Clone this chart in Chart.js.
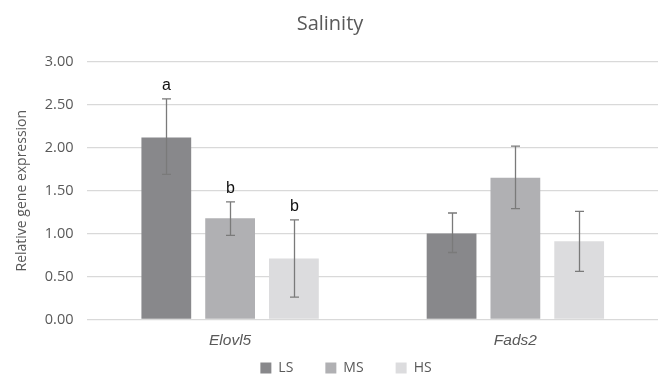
<!DOCTYPE html>
<html>
<head>
<meta charset="utf-8">
<script src="https://cdn.jsdelivr.net/npm/chart.js@4.4.1/dist/chart.umd.min.js"></script>
<style>
  html, body { margin: 0; padding: 0; background: #fff; }
  #wrap { width: 658px; height: 378px; }
</style>
</head>
<body>
<div id="wrap"><canvas id="myChart" width="658" height="378"></canvas></div>
<script>
var genes = ["Elovl5", "Fads2"];
var seriesNames = ["LS", "MS", "HS"];
var barColors = ["#88888b", "#b0b0b3", "#dcdcde"];

// means per series (LS, MS, HS) for each gene
var lsValues = [2.12, 1.00];
var msValues = [1.18, 1.65];
var hsValues = [0.71, 0.91];

// error bar ends
var lsErrTop = [2.57, 1.24], lsErrBot = [1.69, 0.78];
var msErrTop = [1.37, 2.02], msErrBot = [0.98, 1.29];
var hsErrTop = [1.16, 1.26], hsErrBot = [0.26, 0.56];

// significance letters (only on Elovl5)
var lsLetters = ["a", ""];
var msLetters = ["b", ""];
var hsLetters = ["b", ""];

var yTicks = [0, 0.5, 1, 1.5, 2, 2.5, 3];

var allValues = [lsValues, msValues, hsValues];
var allTop = [lsErrTop, msErrTop, hsErrTop];
var allBot = [lsErrBot, msErrBot, hsErrBot];
var allLetters = [lsLetters, msLetters, hsLetters];

var errorBarPlugin = {
    id: "errorBars",
    afterDatasetsDraw: function (chart) {
        var ctx = chart.ctx;
        var y = chart.scales.y;
        ctx.save();
        chart.data.datasets.forEach(function (ds, i) {
            var meta = chart.getDatasetMeta(i);
            meta.data.forEach(function (bar, j) {
                var x = Math.round(bar.x) + 0.5;
                var yt = y.getPixelForValue(allTop[i][j]);
                var yb = y.getPixelForValue(allBot[i][j]);
                ctx.strokeStyle = "#7a7a7a";
                ctx.lineWidth = 1.3;
                ctx.beginPath();
                ctx.moveTo(x, yt); ctx.lineTo(x, yb);
                ctx.moveTo(x - 4.5, yt); ctx.lineTo(x + 4.5, yt);
                ctx.moveTo(x - 4.5, yb); ctx.lineTo(x + 4.5, yb);
                ctx.stroke();
                var letter = allLetters[i][j];
                if (letter) {
                    ctx.fillStyle = "#111";
                    ctx.font = "16px 'Liberation Sans', Arial, sans-serif";
                    ctx.textAlign = "center";
                    ctx.textBaseline = "bottom";
                    ctx.fillText(letter, x, yt - 5);
                }
            });
        });
        ctx.restore();
    }
};

// legend sits closer to the axis labels (and a bit right) compared to chart.js default
var legendShift = {
    id: "legendShift",
    afterLayout: function (chart) {
        var lg = chart.legend;
        if (lg) {
            lg.top -= 25;
            lg.bottom -= 25;
            lg.left += 16;
            lg.right += 16;
        }
    }
};

var datasets = seriesNames.map(function (name, i) {
    return {
        label: name,
        data: allValues[i],
        backgroundColor: barColors[i],
        borderWidth: 0,
        categoryPercentage: 0.671,
        barPercentage: 0.78
    };
});

new Chart("myChart", {
    type: "bar",
    data: { labels: genes, datasets: datasets },
    plugins: [errorBarPlugin, legendShift],
    options: {
        responsive: false,
        animation: false,
        layout: { padding: { left: 2, right: 0, top: 4, bottom: -32 } },
        plugins: {
            title: {
                display: true,
                text: "Salinity",
                color: "#595959",
                font: { family: "'Open Sans', sans-serif", size: 20, weight: "normal" },
                padding: { top: 8, bottom: 26 }
            },
            legend: {
                position: "bottom",
                labels: {
                    color: "#595959",
                    font: { family: "'Open Sans', sans-serif", size: 14 },
                    boxWidth: 11,
                    boxHeight: 11,
                    padding: 32
                }
            },
            tooltip: { enabled: false }
        },
        scales: {
            x: {
                grid: { display: false },
                border: { display: false },
                ticks: {
                    color: "#595959",
                    font: { family: "'Liberation Sans', Arial, sans-serif", size: 15.5, style: "italic" },
                    padding: 4
                }
            },
            y: {
                min: 0,
                max: 3,
                afterBuildTicks: function (axis) {
                    axis.ticks = yTicks.map(function (v) { return { value: v }; });
                },
                grid: { color: "#d9d9d9", lineWidth: 1.3, drawTicks: false },
                border: { display: false },
                ticks: {
                    color: "#595959",
                    font: { family: "'Open Sans', sans-serif", size: 14.5 },
                    padding: 14,
                    callback: function (v) { return Number(v).toFixed(2); }
                },
                title: {
                    display: true,
                    text: "Relative gene expression",
                    color: "#595959",
                    font: { family: "'Open Sans', sans-serif", size: 14 },
                    padding: { top: 12, bottom: 0 }
                }
            }
        }
    }
});
</script>
</body>
</html>
